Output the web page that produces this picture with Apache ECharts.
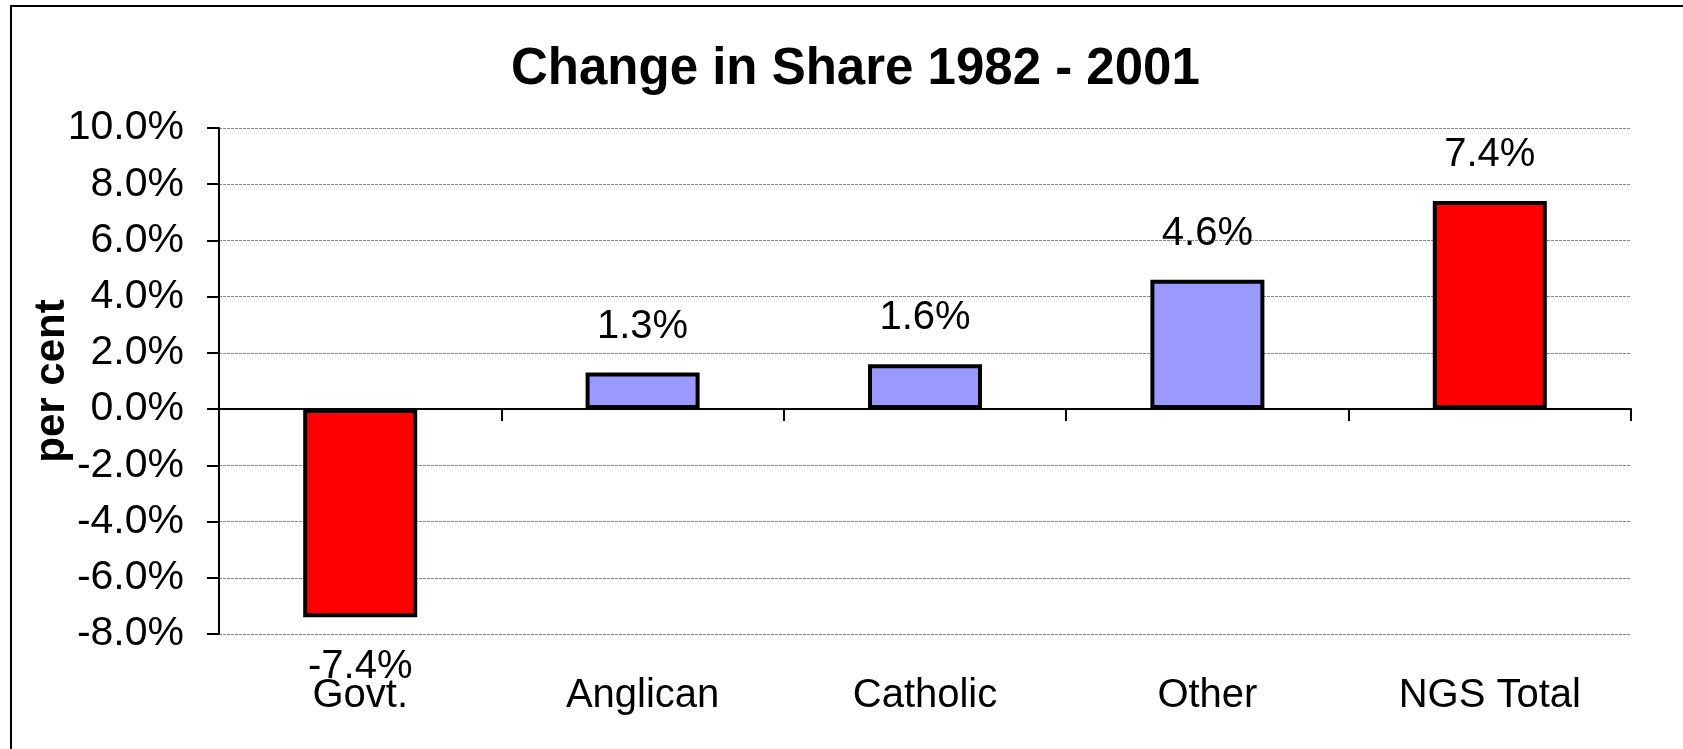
<!DOCTYPE html>
<html>
<head>
<meta charset="utf-8">
<title>Change in Share 1982 - 2001</title>
<script src="https://cdn.jsdelivr.net/npm/echarts@6/dist/echarts.min.js"></script>
<style>
  html, body { margin: 0; padding: 0; background: #fff; }
  #chart { width: 1683px; height: 749px; }
</style>
</head>
<body>
<div id="chart"></div>
<script>
// data
const categories = ['Govt.', 'Anglican', 'Catholic', 'Other', 'NGS Total']
const changes = [-7.4, 1.3, 1.6, 4.6, 7.4] // percent
const barColors = ['#ff0000', '#9999ff', '#9999ff', '#9999ff', '#ff0000']

const FONT = "'Liberation Sans', Arial, sans-serif"

const chart = echarts.init(document.getElementById('chart'))

const option = {
  backgroundColor: '#fff',
  animation: false,
  textStyle: { fontFamily: FONT, color: '#000' },
  title: {
    text: 'Change in Share 1982 - 2001',
    left: 506,
    top: 39,
    textStyle: { fontFamily: FONT, fontSize: 51, fontWeight: 'bold', color: '#000' }
  },
  graphic: [
    {
      type: 'rect',
      shape: { x: 11, y: 6, width: 1720, height: 800 },
      style: { fill: 'none', stroke: '#000', lineWidth: 2 },
      silent: true
    }
  ],
  grid: { left: 219, right: 52, top: 128, bottom: 115, containLabel: false, outerBoundsMode: 'none' },
  xAxis: {
    type: 'category',
    data: categories,
    axisLine: { onZero: true, lineStyle: { color: '#000', width: 2 } },
    axisTick: { show: true, alignWithLabel: false, length: 12, lineStyle: { color: '#000', width: 2 } },
    // labels sit at the bottom of the plot, like Excel's "low" position
    axisLabel: { margin: 42, fontSize: 40, color: '#000', fontFamily: FONT, interval: 0 },
    splitLine: { show: false }
  },
  yAxis: {
    type: 'value',
    min: -8,
    max: 10,
    interval: 2,
    name: 'per cent',
    nameLocation: 'middle',
    nameRotate: 90,
    nameGap: 146,
    nameMoveOverlap: false,
    nameTextStyle: { fontSize: 42, fontWeight: 'bold', color: '#000', fontFamily: FONT },
    axisLine: { show: true, lineStyle: { color: '#000', width: 2 } },
    axisTick: { show: true, length: 12, lineStyle: { color: '#000', width: 2 } },
    axisLabel: {
      margin: 35,
      fontSize: 41,
      color: '#000',
      fontFamily: FONT,
      showMinLabel: true,
      showMaxLabel: true,
      formatter: (v) => v.toFixed(1) + '%'
    },
    splitLine: { show: true, lineStyle: { color: '#888', width: 1, type: [3, 1] } }
  },
  series: [
    {
      type: 'bar',
      barWidth: 114,
      data: changes.map((v, i) => ({
        value: v,
        itemStyle: { color: barColors[i], borderColor: '#000', borderWidth: 4 },
        label: {
          show: true,
          position: v < 0 ? 'bottom' : 'top',
          distance: v < 0 ? 30 : 26
        }
      })),
      label: {
        fontSize: 40,
        color: '#000',
        fontFamily: FONT,
        formatter: (p) => p.value.toFixed(1) + '%'
      }
    }
  ]
}

chart.setOption(option)
</script>
</body>
</html>
